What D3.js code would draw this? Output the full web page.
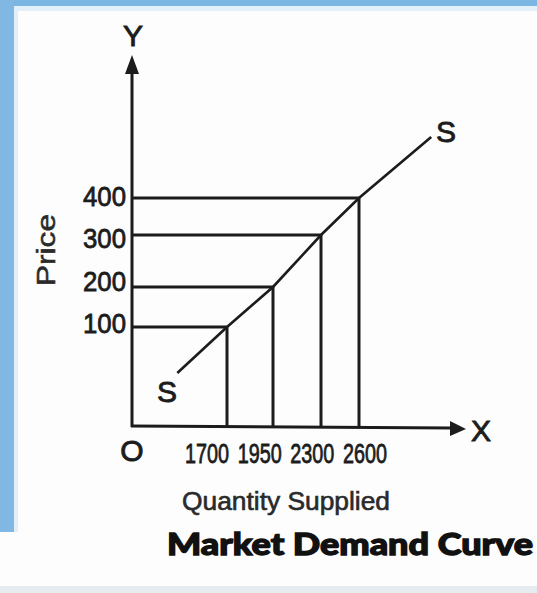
<!DOCTYPE html>
<html>
<head>
<meta charset="utf-8">
<script src="https://cdn.jsdelivr.net/npm/d3@7"></script>
<style>
  body { margin: 0; background: #fdfdfd; }
  svg { display: block; }
</style>
</head>
<body>
<div id="canvas"></div>
<script>
"use strict"
let svgWidth = 537;
let svgHeight = 593;

// quantity supplied at each price (hand drawn schedule)
let quantities = [1700, 1950, 2300, 2600];
let prices = [100, 200, 300, 400];
let qtyLabels = ["1700", "1950", "2300", "2600"];
let priceLabels = ["400", "300", "200", "100"];

let originX = 132;
let originY = 426;
let inkColor = "#1c1c1c";
let plainFont = "'Liberation Sans', Arial, sans-serif";
let narrowFont = "'Liberation Sans Narrow', 'Arial Narrow', 'Liberation Sans', sans-serif";

let svg = d3.select("#canvas")
    .append("svg")
    .attr("width", svgWidth)
    .attr("height", svgHeight);

// page background and blue frame of the scanned figure
svg.append("rect")
    .attr("width", svgWidth)
    .attr("height", svgHeight)
    .attr("fill", "#fdfdfd");

svg.append("rect")
    .attr("x", 0).attr("y", 0)
    .attr("width", svgWidth).attr("height", 6)
    .attr("fill", "#7cb6e2");

svg.append("rect")
    .attr("x", 6).attr("y", 6)
    .attr("width", svgWidth - 6).attr("height", 5)
    .attr("fill", "#e4f0f9");

svg.append("rect")
    .attr("x", 0).attr("y", 0)
    .attr("width", 14).attr("height", 532)
    .attr("fill", "#80b8e3");

svg.append("rect")
    .attr("x", 14).attr("y", 6)
    .attr("width", 4).attr("height", 526)
    .attr("fill", "#e2eef8");

svg.append("rect")
    .attr("x", 0).attr("y", 586)
    .attr("width", svgWidth).attr("height", 7)
    .attr("fill", "#e6ebef");

// the figure is not drawn to scale, so both scales are piecewise
let xScale = d3.scaleLinear()
    .domain([0, 1700, 1950, 2300, 2600])
    .range([originX, 227, 273, 321, 359]);

let yScale = d3.scaleLinear()
    .domain([0, 100, 200, 300, 400])
    .range([originY, 327, 287, 235, 198]);

let xLabelScale = d3.scalePoint()
    .domain(qtyLabels)
    .range([207, 365]);

let yLabelScale = d3.scalePoint()
    .domain(priceLabels)
    .range([196, 323]);

// guide lines from the axes to each point
for (let i = 0; i < quantities.length; i++) {
    let px = xScale(quantities[i]);
    let py = yScale(prices[i]);

    svg.append("line")
        .attr("x1", originX)
        .attr("y1", py)
        .attr("x2", px)
        .attr("y2", py)
        .attr("stroke", inkColor)
        .attr("stroke-width", 3);

    svg.append("line")
        .attr("x1", px)
        .attr("y1", py)
        .attr("x2", px)
        .attr("y2", originY)
        .attr("stroke", inkColor)
        .attr("stroke-width", 3);
}

// supply curve SS, extended a little past the first and last points
let pts = quantities.map(function(q, i) {
    return [xScale(q), yScale(prices[i])];
});
let first = pts[0], second = pts[1];
let last = pts[pts.length - 1], prev = pts[pts.length - 2];
let lowEnd = [first[0] + (first[0] - second[0]) * 1.08, first[1] + (first[1] - second[1]) * 1.15];
let highEnd = [last[0] + (last[0] - prev[0]) * 1.9, last[1] + (last[1] - prev[1]) * 1.65];
let curvePts = [lowEnd].concat(pts).concat([highEnd]);

svg.append("path")
    .attr("d", d3.line()(curvePts))
    .attr("fill", "none")
    .attr("stroke", inkColor)
    .attr("stroke-width", 2.6);

// axes with arrow heads
svg.append("line")
    .attr("x1", originX)
    .attr("y1", originY + 1)
    .attr("x2", originX)
    .attr("y2", 72)
    .attr("stroke", inkColor)
    .attr("stroke-width", 3);

svg.append("path")
    .attr("d", "M" + (originX - 7) + ",74 L" + originX + ",55 L" + (originX + 7) + ",74 Z")
    .attr("fill", inkColor);

svg.append("line")
    .attr("x1", originX - 1)
    .attr("y1", originY)
    .attr("x2", 452)
    .attr("y2", originY + 2)
    .attr("stroke", inkColor)
    .attr("stroke-width", 3);

svg.append("path")
    .attr("d", "M450," + (originY - 5) + " L466," + (originY + 3) + " L450," + (originY + 10) + " Z")
    .attr("fill", inkColor);

// single letters: axis names, origin and the two S marks
let letters = [
    {t: "Y", x: 133, y: 46, anchor: "middle"},
    {t: "X", x: 471, y: 441, anchor: "start"},
    {t: "O", x: 132, y: 461, anchor: "middle"},
    {t: "S", x: 167, y: 402, anchor: "middle"},
    {t: "S", x: 446, y: 142, anchor: "middle"}
];

for (let i = 0; i < letters.length; i++) {
    svg.append("text")
        .attr("x", letters[i].x)
        .attr("y", letters[i].y)
        .attr("text-anchor", letters[i].anchor)
        .attr("font-family", plainFont)
        .attr("font-size", 30)
        .attr("fill", inkColor)
        .attr("stroke", inkColor)
        .attr("stroke-width", 0.9)
        .text(letters[i].t);
}

// price tick labels
for (let i = 0; i < priceLabels.length; i++) {
    svg.append("text")
        .attr("x", 126)
        .attr("y", yLabelScale(priceLabels[i]) + 10)
        .attr("text-anchor", "end")
        .attr("font-family", narrowFont)
        .attr("font-size", 28)
        .attr("textLength", 43)
        .attr("lengthAdjust", "spacingAndGlyphs")
        .attr("fill", inkColor)
        .attr("stroke", inkColor)
        .attr("stroke-width", 0.8)
        .text(priceLabels[i]);
}

// quantity tick labels: small font stretched upward to look condensed
for (let i = 0; i < qtyLabels.length; i++) {
    svg.append("text")
        .attr("transform", "translate(" + xLabelScale(qtyLabels[i]) + ",463) scale(1,1.3)")
        .attr("text-anchor", "middle")
        .attr("font-family", narrowFont)
        .attr("font-size", 21)
        .attr("textLength", 44)
        .attr("lengthAdjust", "spacingAndGlyphs")
        .attr("fill", inkColor)
        .attr("stroke", inkColor)
        .attr("stroke-width", 0.6)
        .text(qtyLabels[i]);
}

// axis titles
svg.append("text")
    .attr("transform", "translate(55,250) rotate(-90)")
    .attr("text-anchor", "middle")
    .attr("font-family", plainFont)
    .attr("font-size", 25)
    .attr("textLength", 72)
    .attr("lengthAdjust", "spacingAndGlyphs")
    .attr("fill", "#2a2a2a")
    .attr("stroke", "#2a2a2a")
    .attr("stroke-width", 0.5)
    .text("Price");

svg.append("text")
    .attr("x", 286)
    .attr("y", 510)
    .attr("text-anchor", "middle")
    .attr("font-family", plainFont)
    .attr("font-size", 25)
    .attr("textLength", 208)
    .attr("lengthAdjust", "spacingAndGlyphs")
    .attr("fill", "#2a2a2a")
    .attr("stroke", "#2a2a2a")
    .attr("stroke-width", 0.6)
    .text("Quantity Supplied");

svg.append("text")
    .attr("x", 167)
    .attr("y", 555)
    .attr("font-family", "Lato, 'DejaVu Sans', sans-serif")
    .attr("font-weight", 900)
    .attr("font-size", 30)
    .attr("textLength", 366)
    .attr("lengthAdjust", "spacingAndGlyphs")
    .attr("fill", "#111")
    .attr("stroke", "#111")
    .attr("stroke-width", 1.3)
    .text("Market Demand Curve");
</script>
</body>
</html>
